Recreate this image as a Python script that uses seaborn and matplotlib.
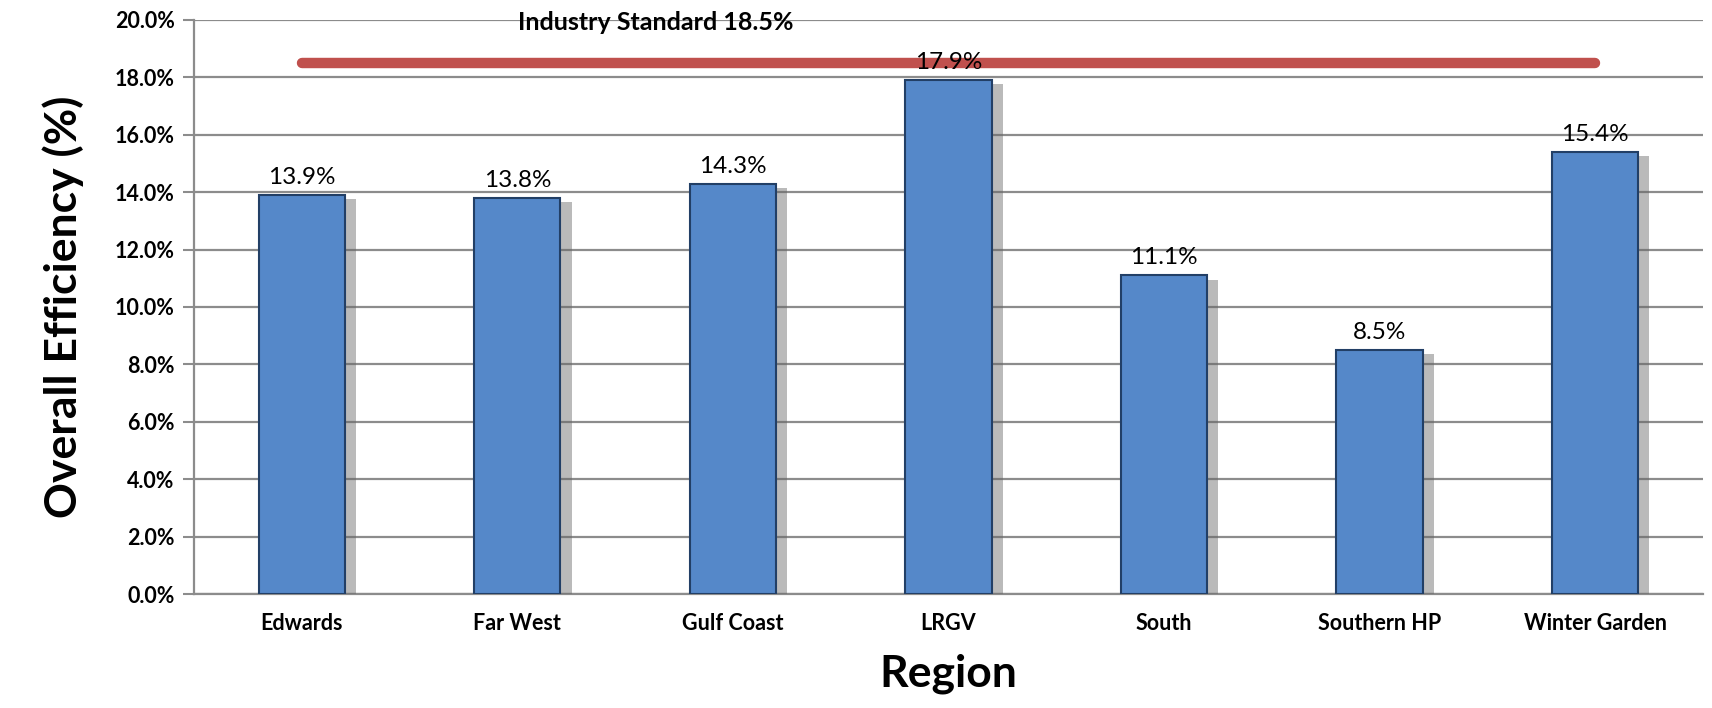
import matplotlib
matplotlib.use("Agg")
import matplotlib.pyplot as plt
import matplotlib.patheffects as pe
import seaborn as sns
import pandas as pd

regions = ["Edwards", "Far West", "Gulf Coast", "LRGV", "South", "Southern HP", "Winter Garden"]
efficiency = [13.9, 13.8, 14.3, 17.9, 11.1, 8.5, 15.4]
industry_standard = 18.5
yticks = [0, 2, 4, 6, 8, 10, 12, 14, 16, 18, 20]

sns.set_theme(style="white")
plt.rcParams['font.family'] = ['Lato', 'DejaVu Sans']
plt.rcParams['text.color'] = 'black'
plt.rcParams['axes.labelcolor'] = 'black'
plt.rcParams['xtick.color'] = 'black'
plt.rcParams['ytick.color'] = 'black'

df = pd.DataFrame({"Region": regions, "Efficiency": efficiency})

fig = plt.figure(figsize=(17.12, 7.08), dpi=100)
ax = fig.add_axes([0.1133, 0.161, 0.8814, 0.8108])

sns.barplot(data=df, x="Region", y="Efficiency", ax=ax, color="#5588C9",
            width=0.4, edgecolor="#223F66", linewidth=1.5, saturation=1, zorder=3)
for p in ax.patches:
    p.set_path_effects([pe.SimplePatchShadow(offset=(8, -3), shadow_rgbFace="#666666", alpha=0.45),
                        pe.Normal()])

ax.set_ylim(0, 20)
ax.set_xlim(-0.5, len(regions) - 0.5)
ax.set_yticks(yticks)
ax.set_yticklabels([f"{v:.1f}%" for v in yticks])
ax.tick_params(axis="y", length=8, width=1.5, color="#8C8C8C", pad=6, left=True, direction="out",
               labelcolor="black", labelsize=15.5)
ax.tick_params(axis="x", length=0, pad=14, labelsize=15.5, labelcolor="black")
for lbl in ax.get_xticklabels() + ax.get_yticklabels():
    lbl.set_fontweight("bold")
ax.grid(axis="y", color="#8C8C8C", linewidth=1.6, zorder=0)
ax.set_axisbelow(True)
for s in ["top", "right"]:
    ax.spines[s].set_visible(False)
for s in ["left", "bottom"]:
    ax.spines[s].set_color("#8C8C8C")
    ax.spines[s].set_linewidth(1.6)

ax.set_xlabel("Region", fontsize=32, fontweight="bold", labelpad=14)
ax.set_ylabel("Overall Efficiency (%)", fontsize=32, fontweight="bold", labelpad=22)

for i, v in enumerate(efficiency):
    ax.annotate(f"{v:.1f}%", (i, v), xytext=(0, 5), textcoords="offset points",
                ha="center", va="bottom", fontsize=17.5, zorder=5)

ax.plot([0, len(regions) - 1], [industry_standard, industry_standard], color="#C0504D",
        linewidth=7.5, solid_capstyle="round", zorder=4)
ax.text(1.64, 19.9, f"Industry Standard {industry_standard}%", ha="center", va="center",
        fontsize=18, fontweight="bold", zorder=5)

fig.savefig("out.png", dpi=100)
